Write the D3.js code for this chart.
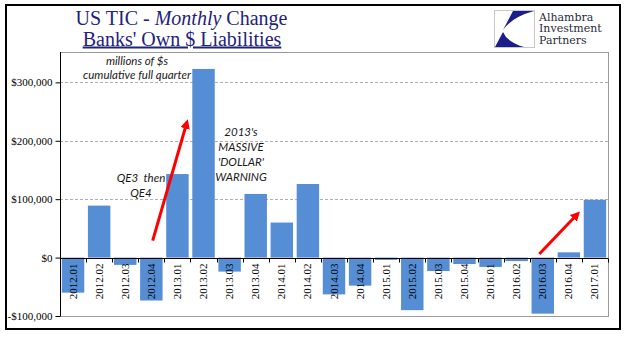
<!DOCTYPE html>
<html><head><meta charset="utf-8">
<script src="https://cdn.jsdelivr.net/npm/d3@7"></script>
<style>
html,body{margin:0;padding:0;background:#fff;}
svg{display:block;}
</style></head>
<body>
<script>
const categories = ["2012.01","2012.02","2012.03","2012.04","2013.01","2013.02","2013.03","2013.04","2014.01","2014.02","2014.03","2014.04","2015.01","2015.02","2015.03","2015.04","2016.01","2016.02","2016.03","2016.04","2017.01"];
const values = [-60000, 89000, -12500, -73500, 143000, 323000, -24000, 109000, 60000, 126000, -63000, -48000, -4000, -90000, -23000, -11000, -16000, -6000, -96000, 9000, 99000];
const yTicks = [-100000, 0, 100000, 200000, 300000];
const titleLines = ["US TIC - ", "Monthly", " Change"];
const subtitle = "Banks' Own $ Liabilities";
const noteUnits = ["millions of $s", "cumulative full quarter"];
const noteQE = ["QE3  then", "QE4"];
const noteWarning = ["2013's", "MASSIVE", "'DOLLAR'", "WARNING"];
const logoLines = ["Alhambra", "Investment", "Partners"];

(function () {
const W = 641, H = 341;
const svg = d3.select("body").append("svg").attr("width", W).attr("height", H);

// outer frame
svg.append("rect").attr("x", 6).attr("y", 5).attr("width", 614).attr("height", 324)
  .attr("fill", "#fff").attr("stroke", "#000").attr("stroke-width", 2);

const pL = 60, pR = 608, pT = 52, pB = 316;
const x = d3.scaleBand().domain(categories).range([pL, pR]).paddingInner(0.14).paddingOuter(0.07);
const y = d3.scaleLinear().domain([-100000, 352000]).range([pB, pT]);

// plot area border
svg.append("rect").attr("x", pL + 0.5).attr("y", pT + 0.5).attr("width", pR - pL).attr("height", pB - pT)
  .attr("fill", "none").attr("stroke", "#9a9a9a").attr("stroke-width", 1);

// gridlines
svg.append("g").selectAll("line").data(yTicks.filter(d => d > 0)).join("line")
  .attr("x1", pL).attr("x2", pR)
  .attr("y1", d => Math.round(y(d)) + 0.5).attr("y2", d => Math.round(y(d)) + 0.5)
  .attr("stroke", "#b0b0b0").attr("stroke-dasharray", "3,2");

// bars
svg.append("g").selectAll("rect").data(values).join("rect")
  .attr("x", (d, i) => x(categories[i]))
  .attr("width", x.bandwidth())
  .attr("y", d => y(Math.max(0, d)))
  .attr("height", d => Math.abs(y(d) - y(0)))
  .attr("fill", "#558ed5");

// y axis
const yAxis = svg.append("g").attr("transform", `translate(${pL + 0.5},0)`)
  .call(d3.axisLeft(y).tickValues(yTicks).tickSize(5).tickPadding(3)
    .tickFormat(d => (d < 0 ? "-$" : "$") + d3.format(",")(Math.abs(d))));
yAxis.select(".domain").attr("stroke", "#000").attr("d", `M0,${pT}V${pB}`);
yAxis.selectAll(".tick line").attr("stroke", "#000");
yAxis.selectAll("text").attr("font-family", "Liberation Serif").attr("font-size", 11).attr("fill", "#000");

// x axis at zero
const y0 = Math.round(y(0)) + 0.5;
const step = x.step();
const xg = svg.append("g");
xg.append("line").attr("x1", pL).attr("x2", pR).attr("y1", y0).attr("y2", y0)
  .attr("stroke", "#000").attr("stroke-width", 1);
const bounds = d3.range(categories.length + 1).map(i =>
  i < categories.length ? x(categories[i]) - step * x.paddingInner() / 2
                        : x(categories[i - 1]) + x.bandwidth() + step * x.paddingInner() / 2);
xg.selectAll("line.tk").data(bounds).join("line").attr("class", "tk")
  .attr("x1", b => Math.round(b) + 0.5).attr("x2", b => Math.round(b) + 0.5)
  .attr("y1", y0).attr("y2", y0 + 4)
  .attr("stroke", "#000");
xg.selectAll("text").data(categories).join("text")
  .attr("transform", d => `translate(${x(d) + x.bandwidth() / 2 + 3.5},${y(0) + 6}) rotate(-90)`)
  .attr("text-anchor", "end")
  .attr("font-family", "Liberation Serif").attr("font-size", 11).attr("fill", "#000")
  .text(d => d);

// title
const navy = "#1f237a";
const t1 = svg.append("text").attr("x", 181.5).attr("y", 25).attr("text-anchor", "middle")
  .attr("font-family", "Liberation Serif").attr("font-size", 20).attr("fill", navy);
t1.selectAll("tspan").data(titleLines).join("tspan")
  .attr("font-style", (d, i) => i === 1 ? "italic" : "normal")
  .attr("xml:space", "preserve")
  .text(d => d);
svg.append("text").attr("x", 182).attr("y", 45.5).attr("text-anchor", "middle")
  .attr("font-family", "Liberation Serif").attr("font-size", 20).attr("fill", navy)
  .attr("text-decoration", "underline").text(subtitle);

// annotations
function note(lines, cx, yy, dy) {
  svg.append("g").selectAll("text").data(lines).join("text")
    .attr("x", cx).attr("y", (d, i) => yy + i * dy).attr("text-anchor", "middle")
    .attr("font-family", "Lato").attr("font-style", "italic").attr("font-size", 11.5).attr("fill", "#1a1a1a")
    .attr("xml:space", "preserve")
    .text(d => d);
}
note(noteUnits, 137, 65, 13.5);
note(noteQE, 141, 182, 14.5);
note(noteWarning, 241, 136, 15);

// arrows
const defs = svg.append("defs");
defs.append("marker").attr("id", "ah").attr("viewBox", "0 0 10 10").attr("refX", 7).attr("refY", 5)
  .attr("markerWidth", 3.2).attr("markerHeight", 3.2).attr("orient", "auto")
  .append("path").attr("d", "M0,0L10,5L0,10Z").attr("fill", "#ff0000");
const arrows = [[152.7, 240.7, 187, 122], [539.3, 254, 578, 213.5]];
svg.append("g").selectAll("line").data(arrows).join("line")
  .attr("x1", d => d[0]).attr("y1", d => d[1]).attr("x2", d => d[2]).attr("y2", d => d[3])
  .attr("stroke", "#ff0000").attr("stroke-width", 3).attr("marker-end", "url(#ah)");

// logo
const lg = svg.append("g");
lg.append("rect").attr("x", 494.5).attr("y", 10.5).attr("width", 40).attr("height", 37)
  .attr("fill", "#fff").attr("stroke", "#c8c8c8");
lg.append("path").attr("d", "M513,11 L534,11 Q512,17 503,30 Z").attr("fill", "#1a1e8c");
lg.append("path").attr("d", "M503,32 Q507,42 524,47 L495,47 Z").attr("fill", "#1a1e8c");
lg.selectAll("text").data(logoLines).join("text")
  .attr("x", 539).attr("y", (d, i) => 20.5 + i * 11.5)
  .attr("font-family", "DejaVu Serif").attr("font-size", 11).attr("fill", "#2a2a3a")
  .text(d => d);
})();
</script>
</body></html>
